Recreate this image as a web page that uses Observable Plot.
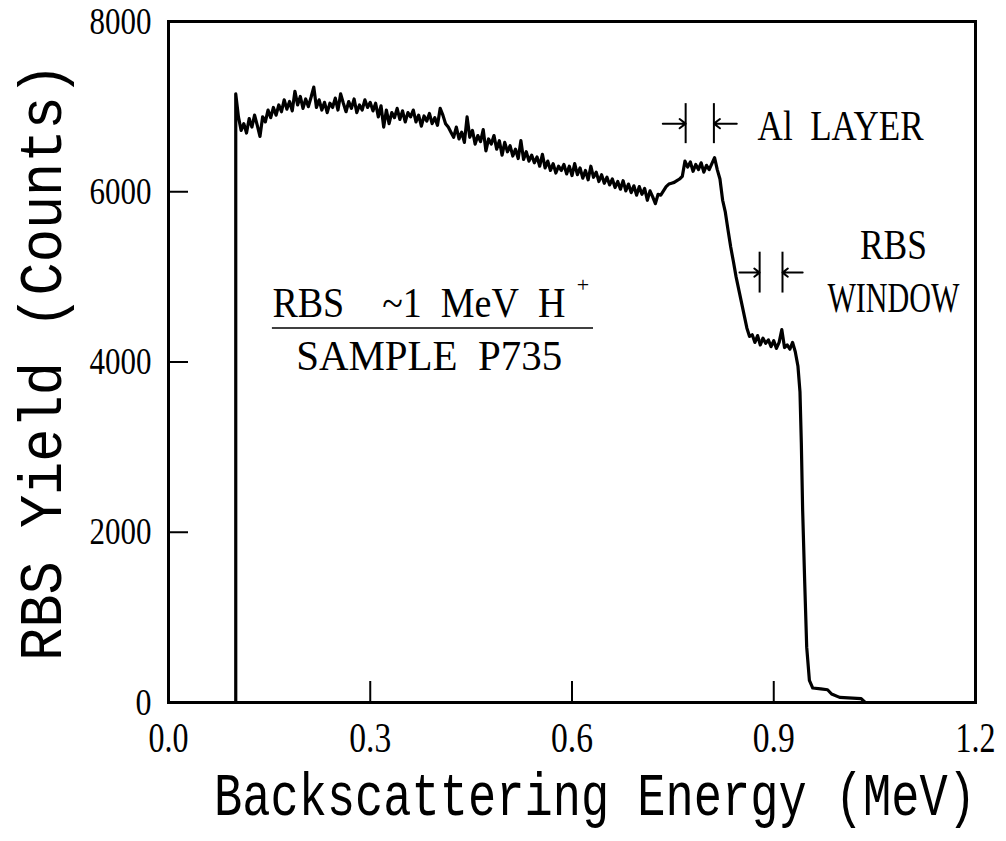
<!DOCTYPE html>
<html><head><meta charset="utf-8">
<script src="https://cdn.jsdelivr.net/npm/d3@7"></script>
<script src="https://cdn.jsdelivr.net/npm/@observablehq/plot@0.6"></script>
<style>body{margin:0;background:#fff}</style>
</head><body><div id="chart"></div>
<script>
// ---- spectrum ----
const energy = [
0.100,0.100,0.104,0.108,0.112,0.116,0.120,0.124,0.128,0.132,0.136,
0.140,0.144,0.148,0.152,0.156,0.160,0.164,0.168,0.172,0.176,
0.180,0.184,0.188,0.192,0.196,0.200,0.204,0.208,0.212,0.216,
0.220,0.224,0.228,0.232,0.236,0.240,0.244,0.248,0.252,0.256,
0.260,0.264,0.268,0.272,0.276,0.280,0.284,0.288,0.292,0.296,
0.300,0.304,0.308,0.312,0.316,0.320,0.324,0.328,0.332,0.336,
0.340,0.344,0.348,0.352,0.356,0.360,0.364,0.368,0.372,0.376,
0.380,0.384,0.388,0.392,0.396,0.400,0.404,0.408,0.412,0.416,
0.420,0.424,0.428,0.432,0.436,0.440,0.444,0.448,0.452,0.456,
0.460,0.464,0.468,0.472,0.476,0.480,0.484,0.488,0.492,0.496,
0.500,0.504,0.508,0.512,0.516,0.520,0.524,0.528,0.532,0.536,
0.540,0.544,0.548,0.552,0.556,0.560,0.564,0.568,0.572,0.576,
0.580,0.584,0.588,0.592,0.596,0.600,0.604,0.608,0.612,0.616,
0.620,0.624,0.628,0.632,0.636,0.640,0.644,0.648,0.652,0.656,
0.660,0.664,0.668,0.672,0.676,0.680,0.684,0.688,0.692,0.696,
0.700,0.704,0.708,0.712,0.716,0.720,0.724,0.728,0.732,0.736,
0.740,0.744,0.748,0.752,0.756,0.760,0.764,0.768,0.772,0.776,
0.780,0.784,0.788,0.792,0.796,0.800,0.804,0.808,0.812,0.816,
0.820,0.824,0.828,0.832,0.836,0.840,0.844,0.848,0.852,0.856,
0.860,0.864,0.868,0.872,0.876,0.880,0.884,0.888,0.892,0.896,
0.900,0.904,0.908,0.912,0.916,0.920,0.924,0.928,0.932,0.936,
0.939,0.941,0.943,0.946,0.949,0.953,0.958,0.970,0.980,0.986,0.998,1.030,1.036,1.200
];
const counts = [
0,7150,6880,6720,6800,6690,6860,6760,6900,6780,6650,
6880,6820,6960,6870,6990,6900,7020,6940,7080,6970,
7060,6950,7180,7020,7120,6980,7090,7000,7110,7230,
6990,7080,6960,7050,6930,7040,6990,7100,6960,7150,
7040,6940,7060,6980,7090,6930,7020,6960,7080,6990,
7050,6950,7040,6880,7010,6760,6960,6800,6930,6870,
6980,6850,6950,6820,6930,6880,6960,6820,6900,6770,
6890,6830,6920,6800,6870,6780,6980,6900,6800,6760,
6700,6640,6760,6620,6700,6580,6880,6640,6720,6560,
6660,6590,6730,6480,6620,6560,6660,6500,6600,6430,
6580,6470,6540,6420,6500,6390,6600,6380,6470,6360,
6430,6340,6410,6300,6440,6280,6360,6250,6330,6220,
6300,6250,6320,6210,6300,6190,6330,6200,6280,6160,
6250,6140,6300,6170,6230,6120,6200,6100,6170,6080,
6150,6050,6120,6030,6130,6010,6090,5990,6070,5960,
6060,5970,6040,5900,6010,5940,5860,5970,5960,6010,
6060,6090,6100,6110,6130,6150,6180,6360,6290,6350,
6240,6320,6260,6340,6230,6310,6260,6330,6400,6260,
6150,5900,5760,5550,5350,5180,5000,4850,4700,4550,
4400,4300,4320,4230,4310,4200,4280,4220,4260,4180,
4250,4160,4230,4380,4170,4200,4150,4230,4120,3950,
3650,3050,2250,1420,650,260,170,160,150,100,60,45,0,0
];

// ---- axes ----
const xTickValues = [0, 0.3, 0.6, 0.9, 1.2];
const xTickLabels = ["0.0", "0.3", "0.6", "0.9", "1.2"];
const xInnerTicks = [0.3, 0.6, 0.9];
const yTickValues = [0, 2000, 4000, 6000, 8000];
const yInnerTicks = [2000, 4000, 6000];
const xTitle = "Backscattering Energy (MeV)";
const yTitle = "RBS Yield (Counts)";

// ---- annotations (data coordinates) ----
const markerY = [6800, 5050];             // Al layer, RBS window
const markerLeft = [0.769, 0.879];        // left bars
const markerRight = [0.811, 0.913];       // right bars
const markerHalfHeight = [235, 240];
const markerArrowLen = [0.034, 0.030];
const leftTexts = ["Al\u00a0\u00a0LAYER", "RBS\u00a0\u00a0\u00a0\u00a0~1\u00a0\u00a0MeV\u00a0\u00a0H"];
const leftX = [0.876, 0.1545];
const leftY = [6770, 4682];
const centerTexts = ["RBS", "WINDOW", "SAMPLE\u00a0\u00a0P735"];
const centerX = [1.078, 1.078, 0.3876];
const centerY = [5365, 4747, 4059];
const superX = 0.607, superY = 4900, superText = "+";
const ruleLine = {x1: 0.1545, x2: 0.632, y: 4400};

const spectrum = energy.map((e, i) => ({e, c: counts[i]}));
const arrows = [];
const bars = [];
markerY.forEach((y, i) => {
  arrows.push({x1: markerLeft[i] - markerArrowLen[i], x2: markerLeft[i], y});
  arrows.push({x1: markerRight[i] + markerArrowLen[i], x2: markerRight[i], y});
  bars.push({x: markerLeft[i], y1: y - markerHalfHeight[i], y2: y + markerHalfHeight[i]});
  bars.push({x: markerRight[i], y1: y - markerHalfHeight[i], y2: y + markerHalfHeight[i]});
});
const leftLabels = leftTexts.map((t, i) => ({t, x: leftX[i], y: leftY[i]}));
const centerLabels = centerTexts.map((t, i) => ({t, x: centerX[i], y: centerY[i]}));

const serif = "'Liberation Serif', 'Times New Roman', serif";
const mono = "'Liberation Mono', 'Courier New', monospace";

const plot = Plot.plot({
  width: 1006, height: 841,
  marginLeft: 168, marginRight: 31, marginTop: 21, marginBottom: 139,
  style: {background: "#fff", color: "#000"},
  x: {domain: [0, 1.2], axis: null},
  y: {domain: [0, 8000], axis: null},
  marks: [
    Plot.axisX(xInnerTicks, {tickSize: -21, tickFormat: () => "", strokeWidth: 2}),
    Plot.axisY(yInnerTicks, {tickSize: -20, tickFormat: () => "", strokeWidth: 2}),
    Plot.axisX(xTickValues, {tickSize: 0, tickPadding: 20, tickFormat: (d, i) => xTickLabels[i], fontSize: 42, fontFamily: serif}),
    Plot.axisY(yTickValues, {tickSize: 0, tickPadding: 17, tickFormat: d => String(d), fontSize: 38, fontFamily: serif}),
    Plot.line(spectrum, {x: "e", y: "c", stroke: "#000", strokeWidth: 3.2, strokeLinejoin: "round"}),
    Plot.frame({stroke: "#000", strokeWidth: 3}),
    Plot.arrow(arrows, {x1: "x1", y1: "y", x2: "x2", y2: "y", stroke: "#000", strokeWidth: 2, headLength: 14, headAngle: 75}),
    Plot.ruleX(bars, {x: "x", y1: "y1", y2: "y2", stroke: "#000", strokeWidth: 2}),
    Plot.ruleY([ruleLine], {x1: "x1", x2: "x2", y: "y", stroke: "#000", strokeWidth: 1.5}),
    Plot.text(leftLabels, {x: "x", y: "y", text: "t", textAnchor: "start", lineAnchor: "middle", fontSize: 42, fontFamily: serif, fill: "#000"}),
    Plot.text(centerLabels, {x: "x", y: "y", text: "t", textAnchor: "middle", lineAnchor: "middle", fontSize: 42, fontFamily: serif, fill: "#000"}),
    Plot.text([superText], {x: () => superX, y: () => superY, text: d => d, textAnchor: "start", lineAnchor: "middle", fontSize: 22, fontFamily: serif, fill: "#000"}),
    Plot.text([xTitle], {frameAnchor: "bottom", dy: 93, dx: 23, text: d => d, textAnchor: "middle", lineAnchor: "middle", fontSize: 62, fontFamily: mono, fill: "#000"}),
    Plot.text([yTitle], {frameAnchor: "left", dx: -127, rotate: -90, text: d => d, textAnchor: "middle", lineAnchor: "middle", fontSize: 62, fontFamily: mono, fill: "#000"})
  ]
});
document.getElementById("chart").appendChild(plot);

// fit text widths to the condensed lettering of the original
const widths = new Map([
  [xTitle, 762], [yTitle, 598],
  [leftTexts[0], 166], ["RBS", 67], ["WINDOW", 132],
  [leftTexts[1], 293], [centerTexts[2], 266],
  ["0.0", 40], ["0.3", 42], ["0.6", 42], ["0.9", 42], ["1.2", 40],
  ["8000", 62], ["6000", 62], ["4000", 62], ["2000", 62], ["0", 16]
]);
d3.select(plot).selectAll("text").each(function() {
  const t = this.textContent;
  if (widths.has(t)) {
    this.setAttribute("textLength", widths.get(t));
    this.setAttribute("lengthAdjust", "spacingAndGlyphs");
  }
});
</script></body></html>
